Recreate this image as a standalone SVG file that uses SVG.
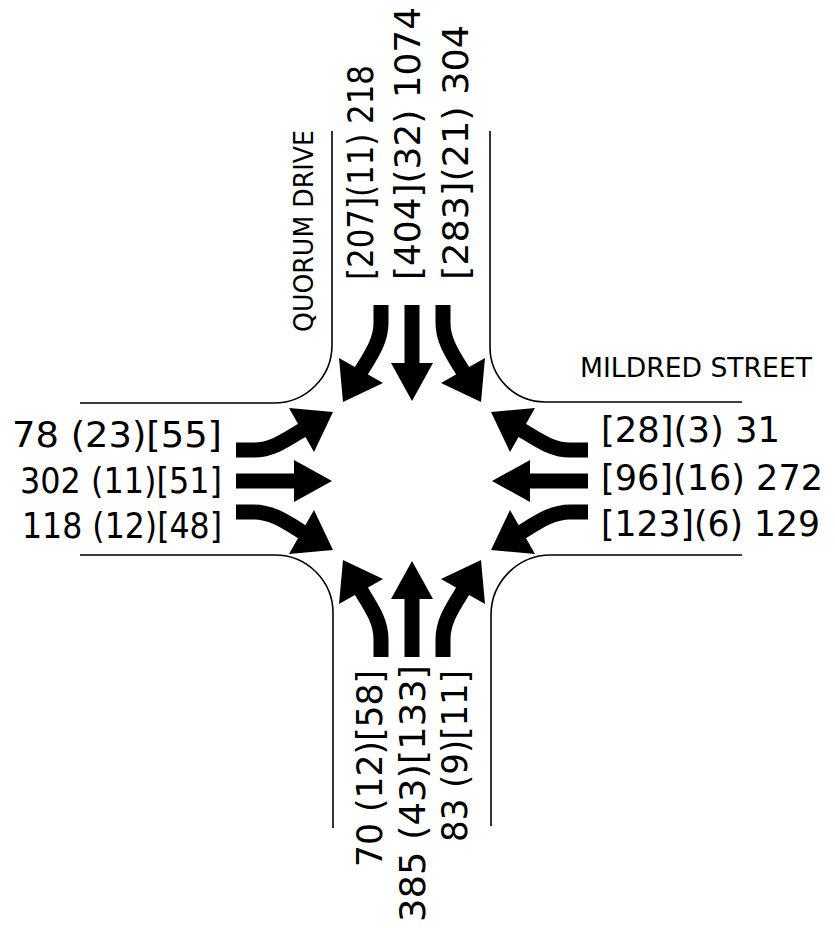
<svg xmlns="http://www.w3.org/2000/svg" xmlns:xlink="http://www.w3.org/1999/xlink" width="835" height="928" viewBox="0 0 835 928">
  <style>
    .curb { fill: none; stroke: #000; stroke-width: 1.6; }
    .shaft { fill: none; stroke: #000; stroke-width: 15; stroke-linecap: butt; }
    .head { fill: #000; stroke: none; }
    .vol { font-family: "DejaVu Sans", "Liberation Sans", sans-serif; font-size: 36px; fill: #000; }
    .street { font-family: "DejaVu Sans", "Liberation Sans", sans-serif; font-size: 26px; fill: #000; }
  </style>
  <defs>
    <!-- One approach (travelling +x), three movement arrows, drawn about the junction centre -->
    <g id="approach">
      <!-- left turn -->
      <path class="shaft" d="M-176,-31 L-158,-31 C-140,-31 -126,-41 -108,-52"/>
      <polygon class="head" points="-123,-73 -79,-69 -98,-29"/>
      <!-- through -->
      <path class="shaft" d="M-176,0 L-112,0"/>
      <polygon class="head" points="-118,-21 -80,0 -118,21"/>
      <!-- right turn -->
      <path class="shaft" d="M-176,31 L-158,31 C-140,31 -126,41 -108,52"/>
      <polygon class="head" points="-123,73 -79,69 -98,29"/>
    </g>
  </defs>

  <!-- kerb lines -->
  <g id="kerbs">
    <path class="curb" d="M80,403 H274 A58,58 0 0 0 332,345 V131"/>
    <path class="curb" d="M490,131 V347 A55,55 0 0 0 545,402 H742"/>
    <path class="curb" d="M742,555 H551 A60,60 0 0 0 491,615 V826"/>
    <path class="curb" d="M80,555 H275 A58,58 0 0 1 333,613 V828"/>
  </g>

  <!-- movement arrows -->
  <g id="arrows">
    <use id="arrows-west" xlink:href="#approach" transform="translate(412,481)"/>
    <use id="arrows-north" xlink:href="#approach" transform="translate(412,481) rotate(90)"/>
    <use id="arrows-east" xlink:href="#approach" transform="translate(412,481) rotate(180)"/>
    <use id="arrows-south" xlink:href="#approach" transform="translate(412,481) rotate(270)"/>
  </g>

  <!-- street names -->
  <g id="street-names">
    <text class="street" transform="translate(313,332) rotate(-90)" textLength="202" lengthAdjust="spacingAndGlyphs">QUORUM DRIVE</text>
    <text class="street" x="580" y="377" textLength="232" lengthAdjust="spacingAndGlyphs">MILDRED STREET</text>
  </g>

  <!-- west approach volumes -->
  <g id="west-labels" text-anchor="end">
    <text class="vol" x="222" y="447" textLength="210" lengthAdjust="spacingAndGlyphs">78 (23)[55]</text>
    <text class="vol" x="222" y="493" textLength="202" lengthAdjust="spacingAndGlyphs">302 (11)[51]</text>
    <text class="vol" x="222" y="538" textLength="200" lengthAdjust="spacingAndGlyphs">118 (12)[48]</text>
  </g>

  <!-- east approach volumes -->
  <g id="east-labels">
    <text class="vol" x="601" y="442" textLength="179" lengthAdjust="spacingAndGlyphs">[28](3) 31</text>
    <text class="vol" x="601" y="490" textLength="222" lengthAdjust="spacingAndGlyphs">[96](16) 272</text>
    <text class="vol" x="601" y="536" textLength="219" lengthAdjust="spacingAndGlyphs">[123](6) 129</text>
  </g>

  <!-- north approach volumes -->
  <g id="north-labels">
    <text class="vol" transform="translate(373,280) rotate(-90)" textLength="215" lengthAdjust="spacingAndGlyphs">[207](11) 218</text>
    <text class="vol" transform="translate(420,280) rotate(-90)" textLength="273" lengthAdjust="spacingAndGlyphs">[404](32) 1074</text>
    <text class="vol" transform="translate(468,280) rotate(-90)" textLength="255" lengthAdjust="spacingAndGlyphs">[283](21) 304</text>
  </g>

  <!-- south approach volumes -->
  <g id="south-labels" text-anchor="end">
    <text class="vol" transform="translate(382,670) rotate(-90)" textLength="197" lengthAdjust="spacingAndGlyphs">70 (12)[58]</text>
    <text class="vol" transform="translate(425,665) rotate(-90)" textLength="257" lengthAdjust="spacingAndGlyphs">385 (43)[133]</text>
    <text class="vol" transform="translate(467,670) rotate(-90)" textLength="172" lengthAdjust="spacingAndGlyphs">83 (9)[11]</text>
  </g>
</svg>
